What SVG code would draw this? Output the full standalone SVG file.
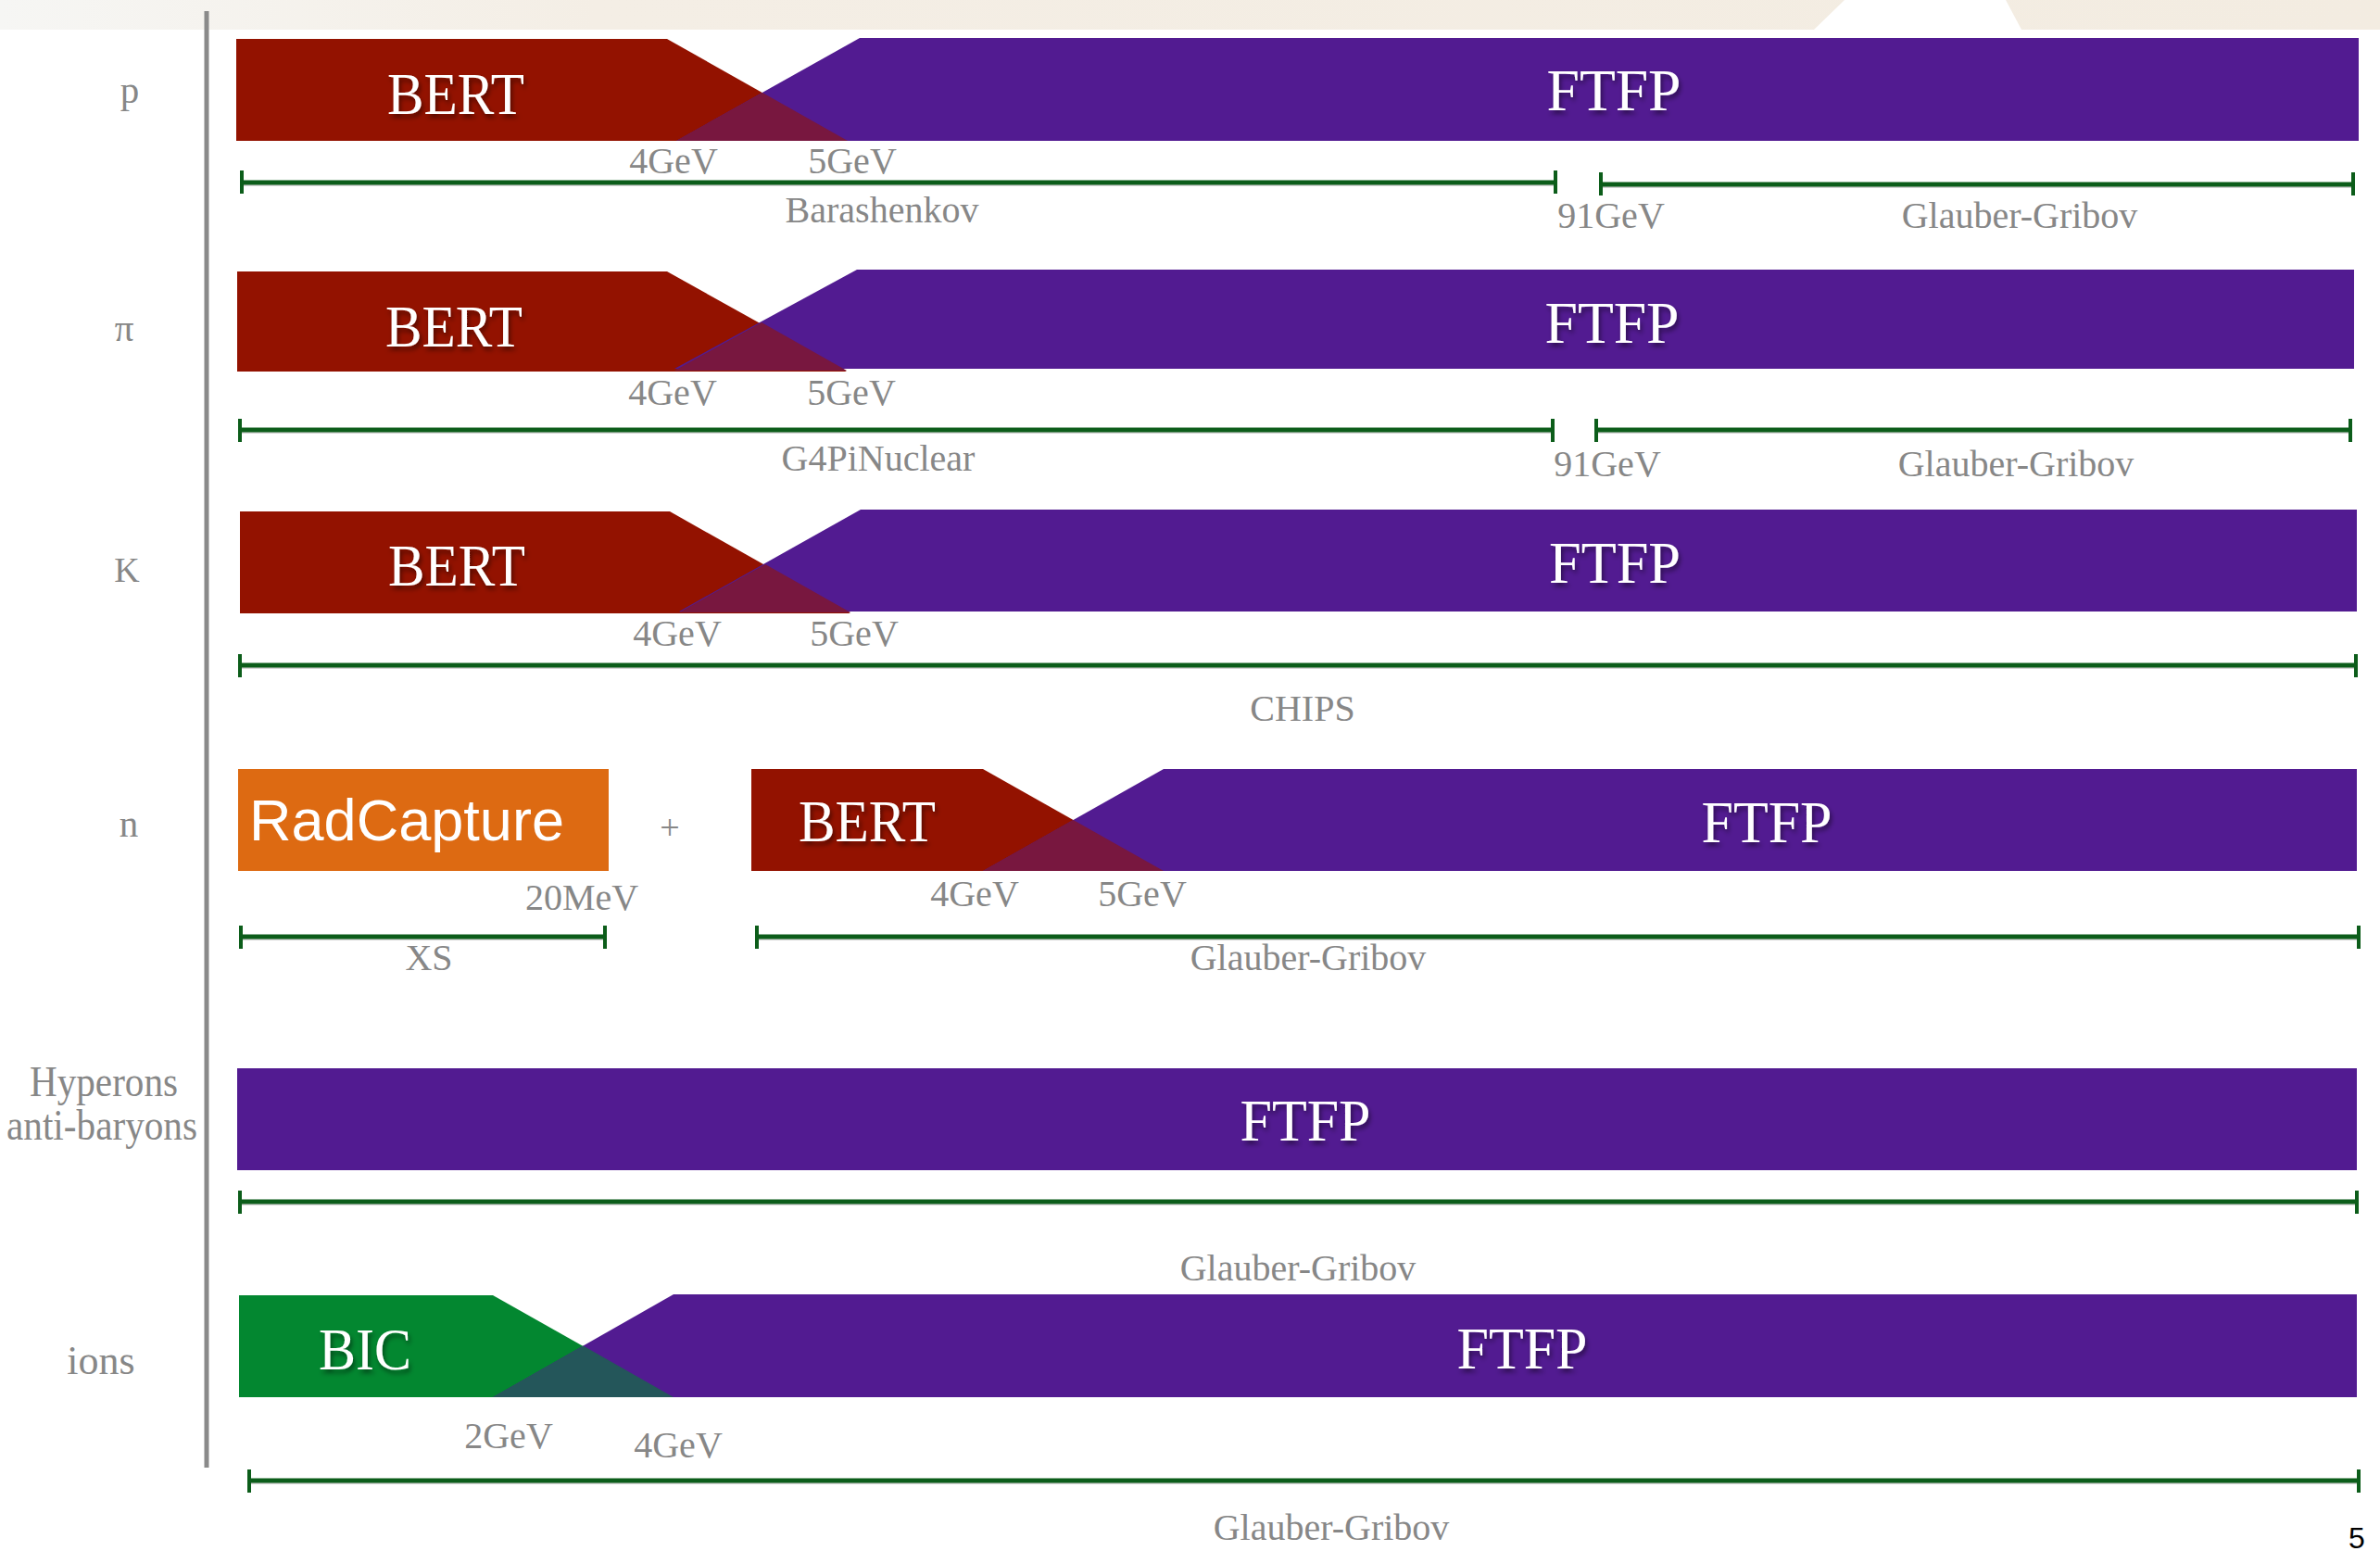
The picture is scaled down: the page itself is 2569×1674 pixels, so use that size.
<svg xmlns="http://www.w3.org/2000/svg" width="2569" height="1674" viewBox="0 0 2569 1674">
<defs>
<linearGradient id="band" x1="0" y1="0" x2="2569" y2="0" gradientUnits="userSpaceOnUse">
<stop offset="0" stop-color="#f6f6f4"/>
<stop offset="0.25" stop-color="#f4eee5"/>
<stop offset="1" stop-color="#f3ece1"/>
</linearGradient>
<filter id="sh" x="-20%" y="-30%" width="140%" height="170%">
<feDropShadow dx="2" dy="4" stdDeviation="2.5" flood-color="#000" flood-opacity="0.45"/>
</filter>
</defs>
<style>
.red{fill:#931200}
.pur{fill:#521b91}
.ovr{fill:#78173f}
.grn{fill:#038730}
.ovg{fill:#24565a}
.org{fill:#dd6a12}
.big{font-family:"Liberation Serif","Times New Roman",serif;font-size:64px;fill:#ffffff;text-anchor:middle;filter:url(#sh)}
.lbl{font-family:"Liberation Serif","Times New Roman",serif;font-size:41px;fill:#878787;text-anchor:middle}
.val{font-family:"Liberation Serif","Times New Roman",serif;font-size:40px;fill:#878787;text-anchor:middle}
.rng{stroke:#0c5d1a;stroke-width:5;fill:none}
.tck{stroke:#0c5d1a;stroke-width:4;fill:none}
.rsh{stroke:#c4c4c4;stroke-width:1.5;fill:none}
.ax{stroke:#8a8a8a;stroke-width:5}
</style>
<rect x="0" y="0" width="2569" height="1674" fill="#ffffff"/>
<rect x="0" y="0" width="2569" height="32" fill="url(#band)"/>
<polygon points="1991,0 2165,0 2182,32 1958,32" fill="#ffffff"/>

<line class="ax" x1="223" y1="12" x2="223" y2="1584"/>

<g id="labels">
<text class="lbl" x="140" y="111">p</text>
<text class="lbl" x="134" y="368">π</text>
<text class="lbl" x="137" y="628" style="font-size:38px">K</text>
<text class="lbl" x="139" y="903">n</text>
<text class="lbl" x="112" y="1183" style="font-size:46px" textLength="160" lengthAdjust="spacingAndGlyphs">Hyperons</text>
<text class="lbl" x="110" y="1230" style="font-size:46px" textLength="206" lengthAdjust="spacingAndGlyphs">anti-baryons</text>
<text class="lbl" x="109" y="1483" style="font-size:44px">ions</text>
</g>

<!-- row p -->
<g id="p-bert"><polygon class="red" points="255,42 720,42 915,152 255,152"/><text class="big" x="492" y="123" textLength="148" lengthAdjust="spacingAndGlyphs">BERT</text></g>
<g id="p-ftfp"><polygon class="pur" points="928,41 2546,41 2546,152 730,152"/><polygon class="ovr" points="823,100 730,152 915,152"/><text class="big" x="1742" y="119" textLength="145" lengthAdjust="spacingAndGlyphs">FTFP</text></g>

<!-- row pi -->
<g id="pi-bert"><polygon class="red" points="256,293 720,293 914,401 256,401"/><text class="big" x="490" y="374" textLength="148" lengthAdjust="spacingAndGlyphs">BERT</text></g>
<g id="pi-ftfp"><polygon class="pur" points="925,291 2541,291 2541,398 728,398"/><polygon class="ovr" points="822,348 728,400 914,400"/><text class="big" x="1740" y="370" textLength="145" lengthAdjust="spacingAndGlyphs">FTFP</text></g>

<!-- row K -->
<g id="k-bert"><polygon class="red" points="259,552 723,552 918,662 259,662"/><text class="big" x="493" y="632" textLength="148" lengthAdjust="spacingAndGlyphs">BERT</text></g>
<g id="k-ftfp"><polygon class="pur" points="929,550 2544,550 2544,660 733,660"/><polygon class="ovr" points="826,609 733,661 918,661"/><text class="big" x="1743" y="629" textLength="142" lengthAdjust="spacingAndGlyphs">FTFP</text></g>

<!-- row n -->
<g id="n-radcapture"><rect class="org" x="257" y="830" width="400" height="110"/><text x="269" y="907" font-family="'Liberation Sans',Arial,sans-serif" font-size="63" fill="#ffffff" textLength="340" lengthAdjust="spacingAndGlyphs">RadCapture</text></g>
<text class="val" x="723" y="906" style="font-size:38px">+</text>
<g id="n-bert"><polygon class="red" points="811,830 1061,830 1256,940 811,940"/><text class="big" x="936" y="908" textLength="148" lengthAdjust="spacingAndGlyphs">BERT</text></g>
<g id="n-ftfp"><polygon class="pur" points="1256,830 2544,830 2544,940 1061,940"/><polygon class="ovr" points="1158.5,885 1061,940 1256,940"/><text class="big" x="1907" y="909" textLength="141" lengthAdjust="spacingAndGlyphs">FTFP</text></g>

<!-- row hyperons -->
<g id="hyp-ftfp"><rect class="pur" x="256" y="1153" width="2288" height="110"/><text class="big" x="1409" y="1231" textLength="141" lengthAdjust="spacingAndGlyphs">FTFP</text></g>

<!-- row ions -->
<g id="ions-bic"><polygon class="grn" points="258,1398 532,1398 727,1508 258,1508"/><text class="big" x="394" y="1478" textLength="100" lengthAdjust="spacingAndGlyphs">BIC</text></g>
<g id="ions-ftfp"><polygon class="pur" points="727,1397 2544,1397 2544,1508 532,1508"/><polygon class="ovg" points="629.5,1452.5 532,1508 727,1508"/><text class="big" x="1643" y="1477" textLength="141" lengthAdjust="spacingAndGlyphs">FTFP</text></g>

<!-- energy values -->
<g id="values">
<text class="val" x="727" y="187">4GeV</text>
<text class="val" x="920" y="187">5GeV</text>
<text class="val" x="726" y="437">4GeV</text>
<text class="val" x="919" y="437">5GeV</text>
<text class="val" x="731" y="697">4GeV</text>
<text class="val" x="922" y="697">5GeV</text>
<text class="val" x="628" y="982">20MeV</text>
<text class="val" x="1052" y="978">4GeV</text>
<text class="val" x="1233" y="978">5GeV</text>
<text class="val" x="549" y="1563">2GeV</text>
<text class="val" x="732" y="1573">4GeV</text>
<text class="val" x="1739" y="246">91GeV</text>
<text class="val" x="1735" y="514">91GeV</text>
</g>

<!-- ranges -->
<g id="connectors">
<g class="rsh">
<line x1="261" y1="200" x2="1679" y2="200"/><line x1="1728" y1="202" x2="2540" y2="202"/>
<line x1="259" y1="467" x2="1676" y2="467"/><line x1="1723" y1="467" x2="2537" y2="467"/>
<line x1="259" y1="721" x2="2543" y2="721"/>
<line x1="260" y1="1014" x2="653" y2="1014"/><line x1="817" y1="1014" x2="2546" y2="1014"/>
<line x1="259" y1="1300" x2="2544" y2="1300"/>
<line x1="269" y1="1601" x2="2546" y2="1601"/>
</g>
<g class="rng">
<line x1="261" y1="197" x2="1679" y2="197"/><line x1="1728" y1="199" x2="2540" y2="199"/>
<line x1="259" y1="464" x2="1676" y2="464"/><line x1="1723" y1="464" x2="2537" y2="464"/>
<line x1="259" y1="718" x2="2543" y2="718"/>
<line x1="260" y1="1011" x2="653" y2="1011"/><line x1="817" y1="1011" x2="2546" y2="1011"/>
<line x1="259" y1="1297" x2="2544" y2="1297"/>
<line x1="269" y1="1598" x2="2546" y2="1598"/>
</g>
<g class="tck">
<line x1="261" y1="184" x2="261" y2="209"/><line x1="1679" y1="184" x2="1679" y2="209"/>
<line x1="1728" y1="186" x2="1728" y2="211"/><line x1="2540" y1="186" x2="2540" y2="211"/>
<line x1="259" y1="452" x2="259" y2="477"/><line x1="1676" y1="452" x2="1676" y2="477"/>
<line x1="1723" y1="452" x2="1723" y2="477"/><line x1="2537" y1="452" x2="2537" y2="477"/>
<line x1="259" y1="706" x2="259" y2="731"/><line x1="2543" y1="706" x2="2543" y2="731"/>
<line x1="260" y1="999" x2="260" y2="1024"/><line x1="653" y1="999" x2="653" y2="1024"/>
<line x1="817" y1="999" x2="817" y2="1024"/><line x1="2546" y1="999" x2="2546" y2="1024"/>
<line x1="259" y1="1285" x2="259" y2="1310"/><line x1="2544" y1="1285" x2="2544" y2="1310"/>
<line x1="269" y1="1586" x2="269" y2="1611"/><line x1="2546" y1="1586" x2="2546" y2="1611"/>
</g>
<text class="val" x="952" y="240">Barashenkov</text>
<text class="val" x="2180" y="246">Glauber-Gribov</text>
<text class="val" x="948" y="508">G4PiNuclear</text>
<text class="val" x="2176" y="514">Glauber-Gribov</text>
<text class="val" x="1406" y="778">CHIPS</text>
<text class="val" x="463" y="1047">XS</text>
<text class="val" x="1412" y="1047">Glauber-Gribov</text>
<text class="val" x="1401" y="1382">Glauber-Gribov</text>
<text class="val" x="1437" y="1662">Glauber-Gribov</text>
</g>

<text x="2544" y="1671" font-family="'Liberation Sans',Arial,sans-serif" font-size="32" fill="#000000" text-anchor="middle">5</text>
</svg>
